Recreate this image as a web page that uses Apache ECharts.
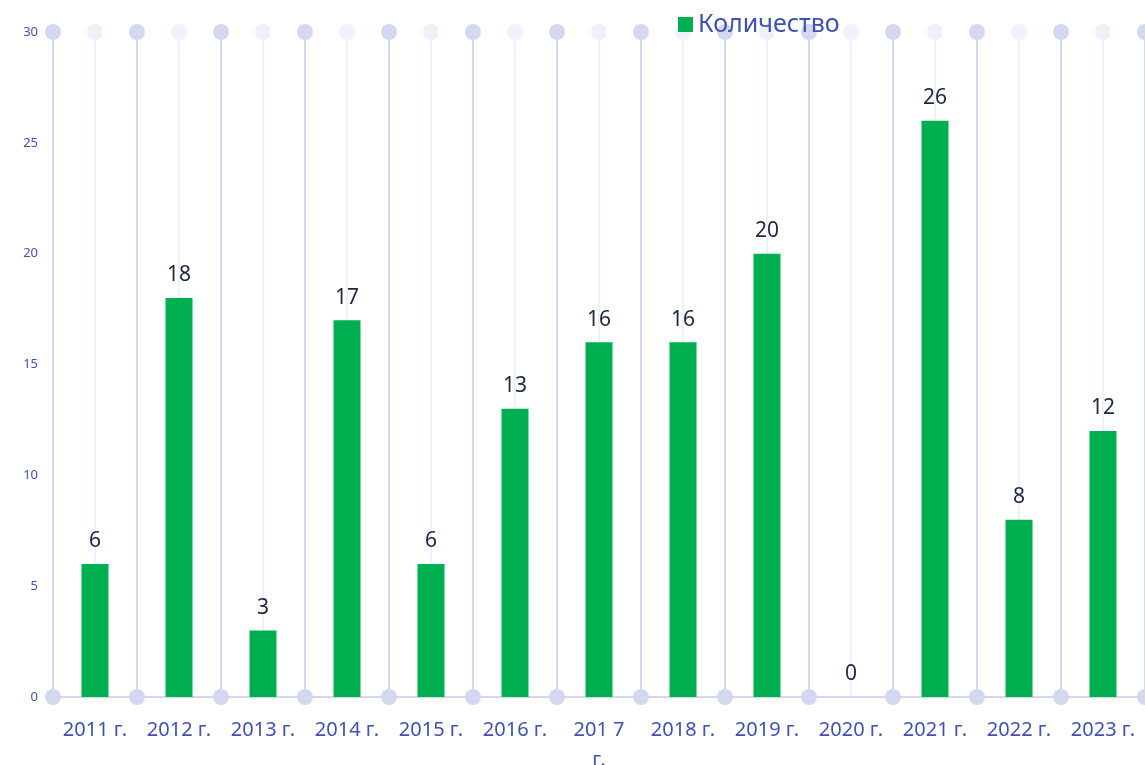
<!DOCTYPE html>
<html>
<head>
<meta charset="utf-8">
<script src="https://cdn.jsdelivr.net/npm/echarts@6/dist/echarts.min.js"></script>
<style>
  html, body { margin: 0; padding: 0; background: #fff; }
  #main { width: 1145px; height: 765px; }
</style>
</head>
<body>
<div id="main"></div>
<script>
var categories = ['2011 г.', '2012 г.', '2013 г.', '2014 г.', '2015 г.', '2016 г.', '201 7\nг.',
  '2018 г.', '2019 г.', '2020 г.', '2021 г.', '2022 г.', '2023 г.']
var counts = [6, 18, 3, 17, 6, 13, 16, 16, 20, 0, 26, 8, 12]
var yTicks = { min: 0, max: 30, step: 5 }

// декоративные точки на вертикальных линиях
var darkDots = []
var lightDots = []
for (var i = 0; i <= categories.length; i++) {
  darkDots.push([i, yTicks.max])
  darkDots.push([i, yTicks.min])
  if (i < categories.length) lightDots.push([i + 0.5, yTicks.max])
}

var myChart = echarts.init(document.getElementById('main'))
var option = {
  animation: false,
  textStyle: { fontFamily: 'Noto Sans' },
  legend: {
    data: ['Количество'],
    left: 673,
    top: 7,
    z: 10,
    icon: 'rect',
    itemWidth: 15,
    itemHeight: 15,
    textStyle: { fontSize: 25, color: '#3f51b5' }
  },
  grid: { left: 53, right: 0, top: 32, bottom: 68, containLabel: false, outerBoundsMode: 'none' },
  xAxis: [
    {
      type: 'category',
      data: categories,
      axisLine: { lineStyle: { color: '#d3d8ee', width: 2 } },
      axisTick: { show: false },
      splitLine: { show: false },
      axisLabel: { color: '#3f51b5', fontSize: 20, margin: 18, lineHeight: 30, interval: 0 }
    },
    {
      type: 'value',
      min: 0,
      max: categories.length,
      interval: 0.5,
      position: 'top',
      axisLine: { show: false },
      axisTick: { show: false },
      axisLabel: { show: false },
      splitLine: { show: true, showMinLine: true, showMaxLine: true, lineStyle: { color: ['#d3d8ee', '#eef0fa'], width: 2 } }
    }
  ],
  yAxis: {
    type: 'value',
    min: yTicks.min,
    max: yTicks.max,
    interval: yTicks.step,
    axisLine: { show: false },
    axisTick: { show: false },
    splitLine: { show: false },
    axisLabel: { color: '#3f51b5', fontSize: 13, margin: 15 }
  },
  series: [
    {
      name: 'Количество',
      type: 'bar',
      data: counts,
      barWidth: 27,
      itemStyle: { color: '#00b050' },
      label: { show: true, position: 'top', distance: 12, fontSize: 21, color: '#1e2640' },
      z: 3
    },
    {
      type: 'scatter',
      xAxisIndex: 1,
      data: darkDots,
      symbolSize: 16,
      clip: false,
      silent: true,
      itemStyle: { color: '#d3d8ee', opacity: 1 },
      z: 2
    },
    {
      type: 'scatter',
      xAxisIndex: 1,
      data: lightDots,
      symbolSize: 16,
      clip: false,
      silent: true,
      itemStyle: { color: '#eef0fa', opacity: 1 },
      z: 2
    }
  ]
}
myChart.setOption(option)
</script>
</body>
</html>
